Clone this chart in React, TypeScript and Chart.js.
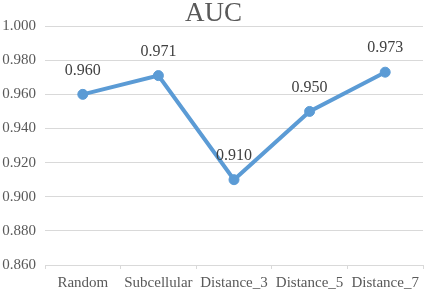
import React, { useEffect, useRef } from "react";
import { Chart, registerables } from "chart.js";

Chart.register(...registerables);

const categories = ["Random", "Subcellular", "Distance_3", "Distance_5", "Distance_7"];
const aucValues = [0.96, 0.971, 0.91, 0.95, 0.973];
const yTicks = [0.86, 0.88, 0.9, 0.92, 0.94, 0.96, 0.98, 1.0];

const FONT = "'Liberation Serif', 'Times New Roman', serif";

const dataLabelPlugin = {
  id: "dataLabels",
  afterDatasetsDraw(chart: any) {
    const ctx = chart.ctx;
    const meta = chart.getDatasetMeta(0);
    ctx.save();
    ctx.font = `16px ${FONT}`;
    ctx.fillStyle = "#404040";
    ctx.textAlign = "center";
    ctx.textBaseline = "middle";
    meta.data.forEach((pt: any, i: number) => {
      ctx.fillText(aucValues[i].toFixed(3), pt.x, pt.y - 24);
    });
    ctx.restore();
  },
};

export default function App() {
  const ref = useRef<HTMLCanvasElement | null>(null);
  useEffect(() => {
    if (!ref.current) return;
    const chart = new Chart(ref.current, {
      type: "line",
      data: {
        labels: categories,
        datasets: [
          {
            data: aucValues,
            borderColor: "#5B9BD5",
            backgroundColor: "#5B9BD5",
            borderWidth: 4,
            pointRadius: 5,
            pointBackgroundColor: "#5B9BD5",
            pointBorderColor: "#5B9BD5",
            pointBorderWidth: 1,
            tension: 0,
          },
        ],
      },
      options: {
        responsive: true,
        maintainAspectRatio: false,
        animation: false,
        layout: { padding: { left: 0, right: 2, top: 1, bottom: 0 } },
        plugins: {
          legend: { display: false },
          tooltip: { enabled: false },
          title: {
            display: true,
            text: "AUC",
            color: "#595959",
            font: { family: FONT, size: 27, weight: "normal", lineHeight: 0.93 },
            padding: { top: 0, bottom: 0 },
          },
        },
        scales: {
          x: {
            offset: true,
            afterFit: (scale: any) => {
              scale.height = 28;
            },
            grid: {
              offset: true,
              drawOnChartArea: false,
              drawTicks: true,
              tickLength: 4,
              color: "#d9d9d9",
            },
            border: { display: true, color: "#d9d9d9", width: 1 },
            ticks: {
              color: "#595959",
              font: { family: FONT, size: 15 },
              padding: 5,
              maxRotation: 0,
              autoSkip: false,
            },
          },
          y: {
            min: 0.86,
            max: 1.0,
            afterFit: (scale: any) => {
              scale.width = 45;
            },
            afterBuildTicks: (axis: any) => {
              axis.ticks = yTicks.map((v) => ({ value: v }));
            },
            grid: { color: "#d9d9d9", drawTicks: false, lineWidth: 1 },
            border: { display: false },
            ticks: {
              color: "#595959",
              font: { family: FONT, size: 15 },
              padding: 9,
              callback: (v: any) => Number(v).toFixed(3),
            },
          },
        },
      },
      plugins: [dataLabelPlugin],
    });
    return () => chart.destroy();
  }, []);
  return (
    <div style={{ position: "absolute", left: 0, top: 0, width: 429, height: 293, background: "#fff" }}>
      <canvas ref={ref} />
    </div>
  );
}
